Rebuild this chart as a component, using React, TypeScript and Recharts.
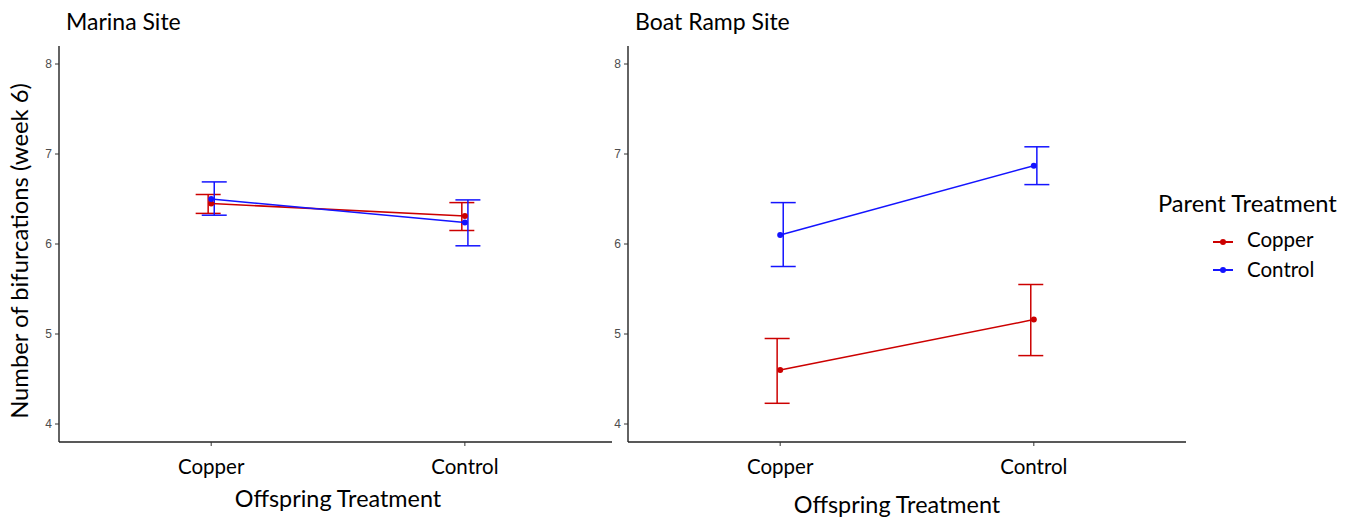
import { LineChart, Line, XAxis, YAxis, ErrorBar } from 'recharts'

const OFFSPRING = ['Copper', 'Control']
const PARENTS = ['Copper', 'Control']
const Y_TICKS = [4, 5, 6, 7, 8]

// Marina site, by parent treatment (values at offspring Copper, Control)
const MARINA_COPPER_MEAN = [6.45, 6.31]
const MARINA_COPPER_LOW = [6.34, 6.15]
const MARINA_COPPER_HIGH = [6.55, 6.46]
const MARINA_CONTROL_MEAN = [6.5, 6.24]
const MARINA_CONTROL_LOW = [6.32, 5.98]
const MARINA_CONTROL_HIGH = [6.69, 6.49]

// Boat ramp site
const RAMP_COPPER_MEAN = [4.6, 5.16]
const RAMP_COPPER_LOW = [4.23, 4.76]
const RAMP_COPPER_HIGH = [4.95, 5.55]
const RAMP_CONTROL_MEAN = [6.1, 6.87]
const RAMP_CONTROL_LOW = [5.75, 6.66]
const RAMP_CONTROL_HIGH = [6.46, 7.08]

const RED = '#CC0000'
const BLUE = '#1414FF'
const FONT = 'Lato, "Open Sans", sans-serif'
const DODGE = 0.012

function series(mean: number[], low: number[], high: number[], shift = 0) {
  return mean.map((m, i) => ({
    x: i + 1 + shift,
    y: m,
    err: [+(m - low[i]).toFixed(3), +(high[i] - m).toFixed(3)],
  }))
}

interface PanelProps {
  left: number
  width: number
  margin: { top: number; right: number; bottom: number; left: number }
  domainX: [number, number]
  copper: ReturnType<typeof series>
  control: ReturnType<typeof series>
  copperBars: ReturnType<typeof series>
  controlBars: ReturnType<typeof series>
}

function Panel({ left, width, margin, domainX, copper, control, copperBars, controlBars }: PanelProps) {
  return (
    <div style={{ position: 'absolute', left, top: 0 }}>
      <LineChart width={width} height={517} margin={margin}>
        <XAxis
          type="number" dataKey="x" domain={domainX} ticks={[1, 2]} allowDataOverflow
          tickFormatter={(v) => OFFSPRING[v - 1]}
          height={75} tickSize={4} tickMargin={13}
          axisLine={{ stroke: '#222', strokeWidth: 1.4 }}
          tickLine={{ stroke: '#333' }}
          tick={{ fontSize: 20.5, fill: '#000', fontFamily: FONT }}
        />
        <YAxis
          type="number" domain={[3.8, 8.2]} ticks={Y_TICKS} allowDataOverflow
          width={30} tickSize={4} tickMargin={3}
          axisLine={{ stroke: '#222', strokeWidth: 1.4 }}
          tickLine={{ stroke: '#333' }}
          tick={{ fontSize: 12, fill: '#4d4d4d', fontFamily: '"Liberation Sans", Arial, sans-serif' }}
        />
        <Line data={copperBars} dataKey="y" stroke="none" dot={false} activeDot={false} isAnimationActive={false}>
          <ErrorBar dataKey="err" width={12.5} stroke={RED} strokeWidth={1.5} direction="y" isAnimationActive={false} />
        </Line>
        <Line data={controlBars} dataKey="y" stroke="none" dot={false} activeDot={false} isAnimationActive={false}>
          <ErrorBar dataKey="err" width={12.5} stroke={BLUE} strokeWidth={1.5} direction="y" isAnimationActive={false} />
        </Line>
        <Line data={copper} dataKey="y" stroke={RED} strokeWidth={1.5}
          dot={{ r: 3, fill: RED, stroke: RED, strokeWidth: 0 }} activeDot={false} isAnimationActive={false} />
        <Line data={control} dataKey="y" stroke={BLUE} strokeWidth={1.5}
          dot={{ r: 3, fill: BLUE, stroke: BLUE, strokeWidth: 0 }} activeDot={false} isAnimationActive={false} />
      </LineChart>
    </div>
  )
}

const txt = { position: 'absolute' as const, fontFamily: FONT, color: '#000', whiteSpace: 'nowrap' as const, lineHeight: 1 }

export default function App() {
  return (
    <div style={{ position: 'absolute', left: 0, top: 0, width: 1354, height: 517, background: '#fff', overflow: 'hidden' }}>
      <Panel
        left={0} width={620}
        margin={{ top: 46, right: 8, bottom: 0, left: 29 }}
        domainX={[0.4, 2.58]}
        copper={series(MARINA_COPPER_MEAN, MARINA_COPPER_LOW, MARINA_COPPER_HIGH)}
        control={series(MARINA_CONTROL_MEAN, MARINA_CONTROL_LOW, MARINA_CONTROL_HIGH)}
        copperBars={series(MARINA_COPPER_MEAN, MARINA_COPPER_LOW, MARINA_COPPER_HIGH, -DODGE)}
        controlBars={series(MARINA_CONTROL_MEAN, MARINA_CONTROL_LOW, MARINA_CONTROL_HIGH, DODGE)}
      />
      <Panel
        left={590} width={610}
        margin={{ top: 46, right: 14, bottom: 0, left: 8 }}
        domainX={[0.4, 2.6]}
        copper={series(RAMP_COPPER_MEAN, RAMP_COPPER_LOW, RAMP_COPPER_HIGH)}
        control={series(RAMP_CONTROL_MEAN, RAMP_CONTROL_LOW, RAMP_CONTROL_HIGH)}
        copperBars={series(RAMP_COPPER_MEAN, RAMP_COPPER_LOW, RAMP_COPPER_HIGH, -DODGE)}
        controlBars={series(RAMP_CONTROL_MEAN, RAMP_CONTROL_LOW, RAMP_CONTROL_HIGH, DODGE)}
      />

      <div style={{ ...txt, left: 66, top: 10, fontSize: 23 }}>Marina Site</div>
      <div style={{ ...txt, left: 635, top: 10, fontSize: 23 }}>Boat Ramp Site</div>

      <div style={{ ...txt, left: 338, top: 487, fontSize: 23.4, transform: 'translateX(-50%)' }}>Offspring Treatment</div>
      <div style={{ ...txt, left: 897, top: 493, fontSize: 23.4, transform: 'translateX(-50%)' }}>Offspring Treatment</div>

      <div style={{ ...txt, left: 20, top: 251, fontSize: 23.8, transform: 'translate(-50%, -50%) rotate(-90deg)' }}>
        Number of bifurcations (week 6)
      </div>

      <div style={{ ...txt, left: 1158, top: 192, fontSize: 23.7 }}>Parent Treatment</div>
      {PARENTS.map((p, i) => {
        const color = i === 0 ? RED : BLUE
        const cy = 242 + i * 28
        return (
          <div key={p}>
            <div style={{ position: 'absolute', left: 1213, top: cy - 1, width: 20, height: 2, background: color }} />
            <div style={{ position: 'absolute', left: 1220, top: cy - 3, width: 6, height: 6, borderRadius: 3, background: color }} />
            <div style={{ ...txt, left: 1247, top: 229 + i * 30, fontSize: 20.5 }}>{p}</div>
          </div>
        )
      })}
    </div>
  )
}
